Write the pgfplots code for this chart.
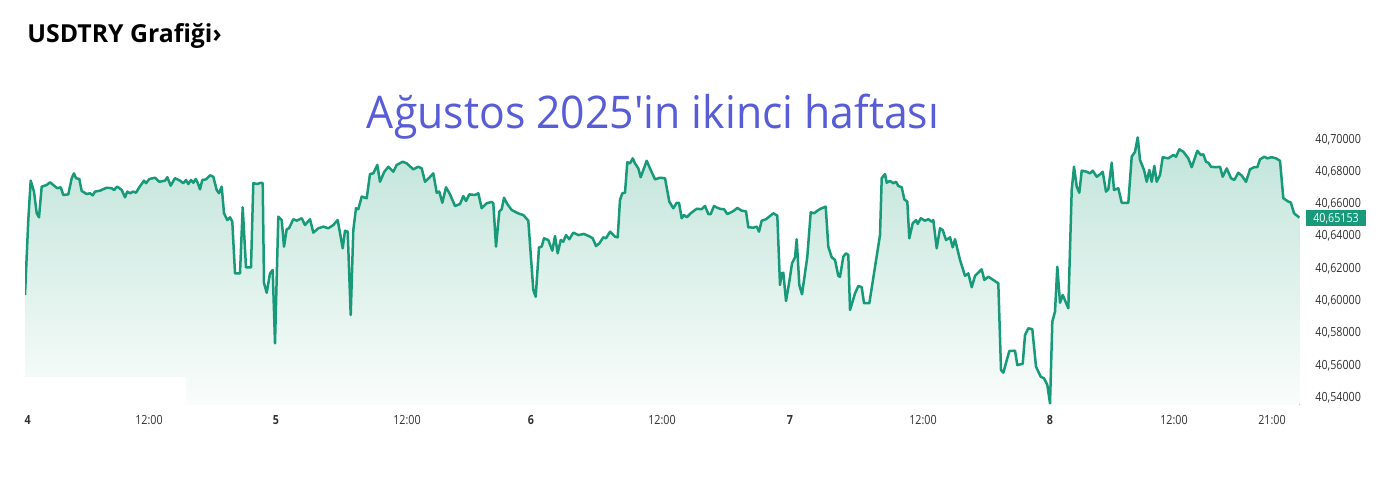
\documentclass[border=0pt]{standalone}
\usepackage{pgfplots}
\pgfplotsset{compat=1.18}
\usepgfplotslibrary{fillbetween}
\usepackage{pgfplotstable}
\usepackage{fontspec}
\setmainfont{Open Sans}
\newfontfamily\tickfont[FakeStretch=0.85]{Open Sans}
\newfontfamily\titlefont[FakeStretch=0.95]{Open Sans}
\definecolor{linec}{RGB}{24,154,122}
\definecolor{titlec}{RGB}{88,92,214}
\definecolor{filltop}{RGB}{192,228,217}
\definecolor{fillbot}{RGB}{250,253,252}
\definecolor{tickc}{RGB}{50,50,50}

\pgfplotstableread{
x y
25 40.6036
28.3 40.6500
30.7 40.6744
34 40.6676
36.7 40.6542
39 40.6517
41.7 40.6707
46.7 40.6717
50 40.6734
53.3 40.6717
57.3 40.6697
60.7 40.6703
63.3 40.6655
68.3 40.6659
71.7 40.6759
74 40.6789
76 40.6759
79.3 40.6754
81.7 40.6680
86.7 40.6661
90 40.6666
92.7 40.6653
95 40.6676
100 40.6682
106.7 40.6700
111.7 40.6697
114 40.6686
117.3 40.6707
121.7 40.6686
125 40.6641
127.3 40.6676
130 40.6666
133.3 40.6676
136 40.6669
139.3 40.6703
144 40.6744
146 40.6728
149.3 40.6754
155 40.6762
159.3 40.6737
165 40.6744
167.3 40.6765
170.7 40.6713
175 40.6759
180 40.6744
183.3 40.6728
186 40.6748
188.3 40.6723
191 40.6748
193.3 40.6731
195.7 40.6754
197.7 40.6731
200 40.6690
202.3 40.6748
206 40.6752
210 40.6777
213.3 40.6768
216.7 40.6686
219 40.6666
221.7 40.6707
224 40.6542
227.3 40.6500
230 40.6517
232.3 40.6490
235 40.6170
240 40.6170
242.7 40.6579
246 40.6207
251 40.6207
253.3 40.6728
257.3 40.6723
260.7 40.6731
262.7 40.6729
264 40.6110
266.7 40.6050
270 40.6170
272.7 40.6191
275 40.5737
278.3 40.6521
281.7 40.6500
284 40.6335
286.7 40.6443
289 40.6449
293.3 40.6505
296.7 40.6496
301.7 40.6511
305 40.6469
310 40.6505
313.3 40.6422
318.3 40.6449
323.3 40.6459
328.3 40.6449
333.3 40.6469
337.7 40.6500
342.7 40.6325
345 40.6434
347.7 40.6428
350.7 40.5912
353.3 40.6438
356 40.6573
358.3 40.6567
361.7 40.6645
366.7 40.6635
370 40.6785
373.3 40.6789
377.3 40.6841
380 40.6737
384.3 40.6799
388.3 40.6830
393.3 40.6799
396.7 40.6841
402.7 40.6861
406.7 40.6851
413.3 40.6814
418.3 40.6830
421.7 40.6820
425 40.6737
429.3 40.6762
433.3 40.6789
436.7 40.6669
439.3 40.6676
442.3 40.6607
446 40.6703
450 40.6659
455 40.6587
460 40.6599
463.3 40.6649
466 40.6618
469.3 40.6659
475 40.6655
478.3 40.6666
481.7 40.6573
486.7 40.6604
491.7 40.6612
493.3 40.6604
496 40.6335
499.3 40.6552
501.7 40.6567
504 40.6638
507.3 40.6599
511.7 40.6562
516.7 40.6546
520 40.6537
523.3 40.6531
528.3 40.6496
533.3 40.6067
535.7 40.6025
539 40.6331
541.7 40.6335
544 40.6387
548.3 40.6376
552.3 40.6310
555 40.6401
557.7 40.6294
560.7 40.6376
563.3 40.6366
566 40.6407
569.3 40.6381
573.3 40.6422
578.3 40.6407
584 40.6414
590 40.6397
592.7 40.6387
596 40.6339
599.3 40.6356
603.3 40.6393
606 40.6387
610 40.6428
615 40.6397
617.7 40.6393
620 40.6624
622.3 40.6666
625 40.6669
627.3 40.6858
630 40.6851
632.7 40.6882
635 40.6851
638.3 40.6820
640.7 40.6765
646.7 40.6867
650.7 40.6810
655 40.6752
660 40.6762
665 40.6759
669.3 40.6614
673.3 40.6573
676.7 40.6607
679 40.6607
681.7 40.6511
684 40.6531
686.7 40.6517
690.7 40.6542
696.7 40.6570
701.7 40.6567
705 40.6587
708.3 40.6537
710.7 40.6537
714 40.6587
718.3 40.6573
721.7 40.6567
724 40.6567
727.3 40.6537
731.7 40.6550
734 40.6558
737.3 40.6575
741.7 40.6558
746 40.6554
748.3 40.6455
753.3 40.6453
756.7 40.6459
759 40.6428
761.7 40.6496
766 40.6505
770 40.6525
773.3 40.6542
777.3 40.6527
780 40.6098
781.7 40.6170
783.3 40.6174
786 40.5999
789.3 40.6118
792 40.6232
795 40.6269
796.7 40.6381
799.3 40.6098
802 40.6040
807.3 40.6273
810.7 40.6548
814 40.6542
818.3 40.6562
821.7 40.6573
825.7 40.6583
828.3 40.6335
831.7 40.6269
835 40.6253
838.3 40.6154
840 40.6149
843.3 40.6273
846 40.6294
848.3 40.6284
850 40.5943
855 40.6046
858.3 40.6092
861.7 40.6084
864 40.5985
869.3 40.5985
880 40.6407
881.7 40.6759
885 40.6785
886.7 40.6731
890 40.6742
893.3 40.6728
896 40.6737
898.3 40.6711
901.7 40.6703
904.3 40.6628
907.3 40.6614
909.3 40.6387
912.7 40.6480
916 40.6500
917.7 40.6476
920.7 40.6511
925 40.6496
928.3 40.6505
931.7 40.6490
933.3 40.6500
936.7 40.6325
940 40.6449
942.7 40.6438
946 40.6376
950 40.6393
952.7 40.6331
955 40.6381
960 40.6253
965 40.6154
968.3 40.6170
971.7 40.6084
975 40.6154
981.7 40.6195
984.3 40.6129
988.3 40.6149
993.3 40.6129
998.3 40.6108
1001 40.5571
1003.3 40.5555
1009.3 40.5689
1015 40.5691
1017.3 40.5602
1022.7 40.5610
1025 40.5788
1028.3 40.5830
1032.3 40.5824
1036 40.5592
1040.7 40.5530
1044 40.5520
1047.3 40.5479
1050 40.5365
1052.3 40.5871
1055 40.5933
1057.3 40.6211
1060 40.5988
1062.7 40.6036
1068.3 40.5954
1071.7 40.6686
1074 40.6830
1076.7 40.6707
1079.3 40.6669
1081.7 40.6806
1086.7 40.6799
1090 40.6789
1092.7 40.6806
1096.7 40.6768
1100 40.6783
1102.7 40.6799
1106 40.6676
1108.3 40.6690
1111.7 40.6855
1114 40.6686
1118.3 40.6697
1121.7 40.6607
1128.3 40.6607
1131.7 40.6892
1135 40.6923
1137.7 40.7012
1140 40.6872
1144 40.6810
1146.7 40.6737
1149.3 40.6810
1151.7 40.6737
1154.3 40.6835
1156.7 40.6737
1160 40.6779
1162.7 40.6889
1168.3 40.6882
1173.3 40.6903
1176 40.6892
1179.3 40.6938
1183.3 40.6923
1188.3 40.6882
1191.7 40.6827
1197.3 40.6929
1200.7 40.6903
1203.3 40.6907
1206 40.6861
1208.3 40.6855
1211 40.6830
1216 40.6827
1220 40.6830
1222.7 40.6768
1226.7 40.6820
1231 40.6759
1234.3 40.6748
1238.3 40.6793
1241.7 40.6775
1246 40.6737
1250 40.6814
1254 40.6827
1257.3 40.6827
1260 40.6876
1264.3 40.6892
1267.3 40.6882
1271.7 40.6889
1276 40.6882
1280 40.6867
1283.3 40.6635
1288.3 40.6614
1290.7 40.6610
1294 40.6542
1299.3 40.65153
}\usdtry

\begin{document}
\begin{tikzpicture}[x=1pt,y=1pt]
\begin{axis}[
  at={(12.5pt,40.5pt)}, anchor=south west,
  scale only axis, width=637.5pt, height=137.5pt,
  xmin=25, xmax=1300, ymin=40.53548, ymax=40.70576,
  axis line style={draw=none}, major tick length=0pt,
  tick style={draw=none},
  ytick={40.54,40.56,40.58,40.60,40.62,40.64,40.66,40.68,40.70},
  yticklabel pos=right,
  yticklabel style={anchor=west, inner sep=0pt, xshift=7.5pt,
    font=\tickfont\fontsize{6.3}{7}\selectfont, text=tickc,
    /pgf/number format/fixed, /pgf/number format/fixed zerofill,
    /pgf/number format/precision=5, /pgf/number format/use comma,
    /pgf/number format/1000 sep={},
    /pgf/number format/assume math mode=true},
  xtick={27.6,149,276,407,531,662,790,923,1050,1174,1272},
  xticklabels={\textbf{4},12:00,\textbf{5},12:00,\textbf{6},12:00,\textbf{7},12:00,\textbf{8},12:00,21:00},
  xticklabel style={anchor=base, inner sep=0pt, yshift=-10pt,
    font=\tickfont\fontsize{6.3}{7}\selectfont, text=tickc},
]
\addplot[draw=none, name path=price] table[x=x,y=y] {\usdtry};
\addplot[draw=none, name path=base] coordinates {(25,40.53548) (1299.3,40.53548)};
\addplot[top color=filltop, bottom color=fillbot, draw=none] fill between[of=price and base];
\addplot[linec, line width=1.25pt, line join=round] table[x=x,y=y] {\usdtry};
\end{axis}
\fill[white] (12.5,40.5) rectangle (92.8,54.25);
\node[fill=linec, text=white, inner sep=0pt, minimum width=30pt, minimum height=7.9pt,
  font=\tickfont\fontsize{6.3}{7}\selectfont] at (668,133.85) {40,65153};
\node[anchor=base west, inner sep=0pt, font=\bfseries\fontsize{12.4}{14}\selectfont] at (13.5,221.5) {USDTRY Grafiği›};
\node[anchor=base, inner sep=0pt, text=titlec, font=\titlefont\fontsize{22.5}{26}\selectfont] at (326.5,178.5) {Ağustos 2025'in ikinci haftası};
\pgfresetboundingbox
\path (0,0) rectangle (692,243);
\end{tikzpicture}
\end{document}
